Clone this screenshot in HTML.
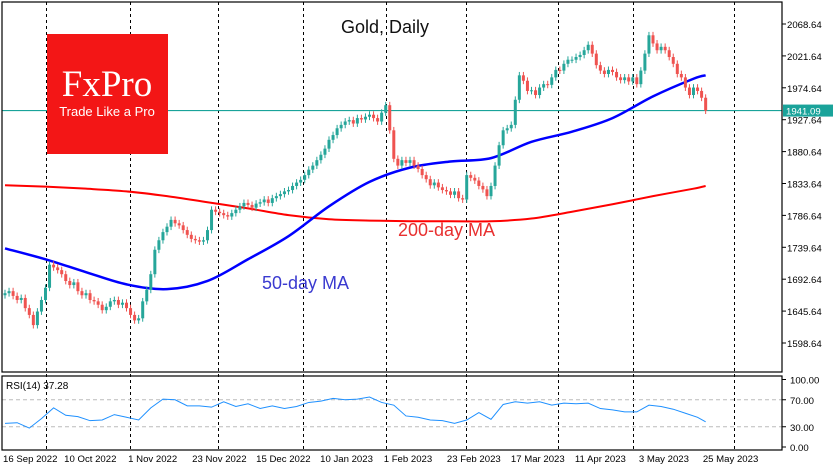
<!DOCTYPE html>
<html><head><meta charset="utf-8"><style>
body{margin:0;background:#fff;width:835px;height:470px;overflow:hidden}
svg{display:block;font-family:"Liberation Sans","DejaVu Sans",sans-serif}
</style></head><body>
<svg id="c" width="835" height="470">
<rect x="0" y="0" width="835" height="470" fill="#fff"/>
<g id="grid"></g>
<g id="ma"></g>
<g id="candles"></g>
<rect x="2" y="2" width="780" height="370" fill="none" stroke="#000" stroke-width="1.2"/>
<rect x="2" y="376" width="780" height="74" fill="none" stroke="#000" stroke-width="1.2"/>
<g id="axes" font-size="10" fill="#000"></g>
<g>
<rect x="47" y="34" width="121" height="120" fill="#f31616"/>
<text x="107" y="96" text-anchor="middle" fill="#fff" font-family="Liberation Serif,serif" font-size="37">FxPro</text>
<text x="107" y="116" text-anchor="middle" fill="#fff" font-family="Liberation Sans,sans-serif" font-size="13">Trade Like a Pro</text>
</g>
<text x="385" y="33" text-anchor="middle" font-size="18" fill="#111">Gold, Daily</text>
<text x="398" y="236" font-size="18" fill="#e83030">200-day MA</text>
<text x="262" y="289" font-size="18" fill="#3a3ad0">50-day MA</text>
<text x="6" y="389" font-size="10" fill="#000">RSI(14) 37.28</text>
<g id="rsi"></g>
</svg>
<script>
const closes=[1672,1675,1668,1662,1665,1650,1640,1625,1645,1662,
1680,1714,1710,1706,1700,1690,1684,1688,1675,1669,
1672,1662,1660,1655,1647,1652,1660,1662,1655,1658,
1650,1640,1632,1635,1660,1677,1700,1736,1750,1762,
1770,1780,1775,1772,1765,1758,1752,1750,1748,1750,
1765,1795,1792,1790,1787,1785,1790,1795,1800,1805,
1802,1798,1804,1806,1810,1805,1812,1815,1818,1822,
1824,1830,1835,1839,1846,1854,1860,1868,1876,1885,
1898,1905,1915,1920,1925,1927,1922,1930,1928,1932,
1935,1930,1925,1938,1949,1912,1870,1860,1868,1864,
1868,1860,1855,1846,1840,1831,1835,1828,1824,1822,
1817,1822,1812,1810,1846,1842,1838,1830,1825,1815,
1830,1860,1890,1912,1915,1920,1957,1993,1985,1970,
1971,1964,1975,1980,1979,1990,2001,2000,2010,2016,
2016,2020,2023,2030,2038,2025,2008,2000,1995,2001,
1998,1990,1986,1990,1984,1990,1980,2000,2025,2052,
2040,2030,2035,2030,2020,2010,1995,1990,1975,1964,
1975,1970,1960,1941];
const ma50=[1738,1722,1703,1685,1678,1690,1722,1756,1800,1836,1857,1866,1871,1895,1910,1930,1962,1988,1993];
const ma200=[1831,1829,1826,1822,1815,1806,1797,1787,1781,1779,1778,1778,1778,1782,1792,1803,1815,1826,1830];
const rsi=[35,36,28,42,58,47,45,39,40,48,44,40,58,71,70,61,61,59,67,60,64,57,61,57,60,66,68,72,70,71,74,66,62,46,44,40,39,35,40,51,41,63,67,65,67,62,65,64,65,57,55,52,52,62,60,56,50,44,37.28];
const priceTicks=[2068.64,2021.64,1974.64,1927.64,1880.64,1833.64,1786.64,1739.64,1692.64,1645.64,1598.64];
const rsiTicks=[100,70,30,0];
const dateLabels=["16 Sep 2022","10 Oct 2022","1 Nov 2022","23 Nov 2022","15 Dec 2022","10 Jan 2023","1 Feb 2023","23 Feb 2023","17 Mar 2023","11 Apr 2023","3 May 2023","25 May 2023"];
const dateBars=[0,15.1,30.9,46.7,62.5,78.3,94,109.6,125.4,141.2,157,172.8];
const gridBars=[10.1,30.9,52.6,73.6,94,113.8,136.5,155,180];
const lastPrice=1941.09;
const NS="http://www.w3.org/2000/svg";
const xB=i=>5+i*4.05;
const yP=p=>24+(2068.64-p)*0.6787;
const yR=v=>447-v*0.675;
function mk(t,a,p){const e=document.createElementNS(NS,t);for(const k in a)e.setAttribute(k,a[k]);p.appendChild(e);return e;}
const grid=document.getElementById('grid'),axes=document.getElementById('axes');
gridBars.forEach(b=>{
 const x=Math.round(xB(b))+0.5;
 const l=mk('line',{x1:x,y1:2,x2:x,y2:450,stroke:'#000','stroke-dasharray':'3,3','stroke-width':1},grid);
 
 
});
dateLabels.forEach((s,k)=>{
 const x=xB(dateBars[k])-2;
 const t=mk('text',{x:x,y:462,'font-size':9.6},axes);t.textContent=s;
 
 
});
priceTicks.forEach(p=>{
 const y=yP(p);
 mk('line',{x1:782,y1:y,x2:786,y2:y,stroke:'#000'},axes);
 const t=mk('text',{x:787,y:y+4,'font-size':9.6},axes);t.textContent=p.toFixed(2);
 
 
});
rsiTicks.forEach(v=>{
 const y=yR(v);
 mk('line',{x1:782,y1:y,x2:786,y2:y,stroke:'#000'},axes);
 const t=mk('text',{x:790,y:y+4,'font-size':9.6},axes);t.textContent=v.toFixed(2);
 
 
 if(v===70||v===30){const g=mk('line',{x1:2,y1:y,x2:782,y2:y,stroke:'#bbb','stroke-dasharray':'4,3'},grid);
 
 }
});
const ly=yP(lastPrice);
const pl=mk('line',{x1:2,y1:ly,x2:782,y2:ly,stroke:'#1aa39a','stroke-width':1.2},grid);


const pr=mk('rect',{x:783,y:ly-6,width:50,height:12,fill:'#1aa39a'},axes);


const pt=mk('text',{x:786,y:ly+4,fill:'#fff','font-size':9.6},axes);pt.textContent=lastPrice.toFixed(2);
const cg=document.getElementById('candles');
closes.forEach((c,i)=>{
 const o=i?closes[i-1]:c-3;
 const up=c>=o,col=up?'#26a69a':'#ef5350';
 const hi=Math.max(o,c)+5,lo=Math.min(o,c)-5;
 const x=xB(i);
 const g=mk('g',{},cg);
 
 
 mk('line',{x1:x,y1:yP(hi),x2:x,y2:yP(lo),stroke:col,'stroke-width':1},g);
 const t=yP(Math.max(o,c)),b=yP(Math.min(o,c));
 mk('rect',{x:x-1.5,y:t,width:3,height:Math.max(1,b-t),fill:col},g);
});
const mg=document.getElementById('ma');
function smooth(P){
 let d='M'+P[0][0]+','+P[0][1];
 for(let i=0;i<P.length-1;i++){
  const p0=P[Math.max(0,i-1)],p1=P[i],p2=P[i+1],p3=P[Math.min(P.length-1,i+2)];
  const c1=[p1[0]+(p2[0]-p0[0])/6,p1[1]+(p2[1]-p0[1])/6];
  const c2=[p2[0]-(p3[0]-p1[0])/6,p2[1]-(p3[1]-p1[1])/6];
  d+=' C'+c1.join(',')+' '+c2.join(',')+' '+p2.join(',');
 }
 return d;
}
function line(arr,col,w,name){
 const last=closes.length-1;
 const P=arr.map((v,k)=>[xB(Math.min(k*10,last)),yP(v)]);
 const l=mk('path',{d:smooth(P),fill:'none',stroke:col,'stroke-width':w,'stroke-linejoin':'round'},mg);
 
 
}
line(ma200,'#ff0000',2,'ma200-line');
line(ma50,'#0000ff',2.5,'ma50-line');
const rg=document.getElementById('rsi');
const rp=rsi.map((v,k)=>{const i=Math.min(k*3,closes.length-1);return xB(i)+','+yR(v);}).join(' ');
const rl=mk('polyline',{points:rp,fill:'none',stroke:'#1e90ff','stroke-width':1},rg);


</script>
</body></html>
